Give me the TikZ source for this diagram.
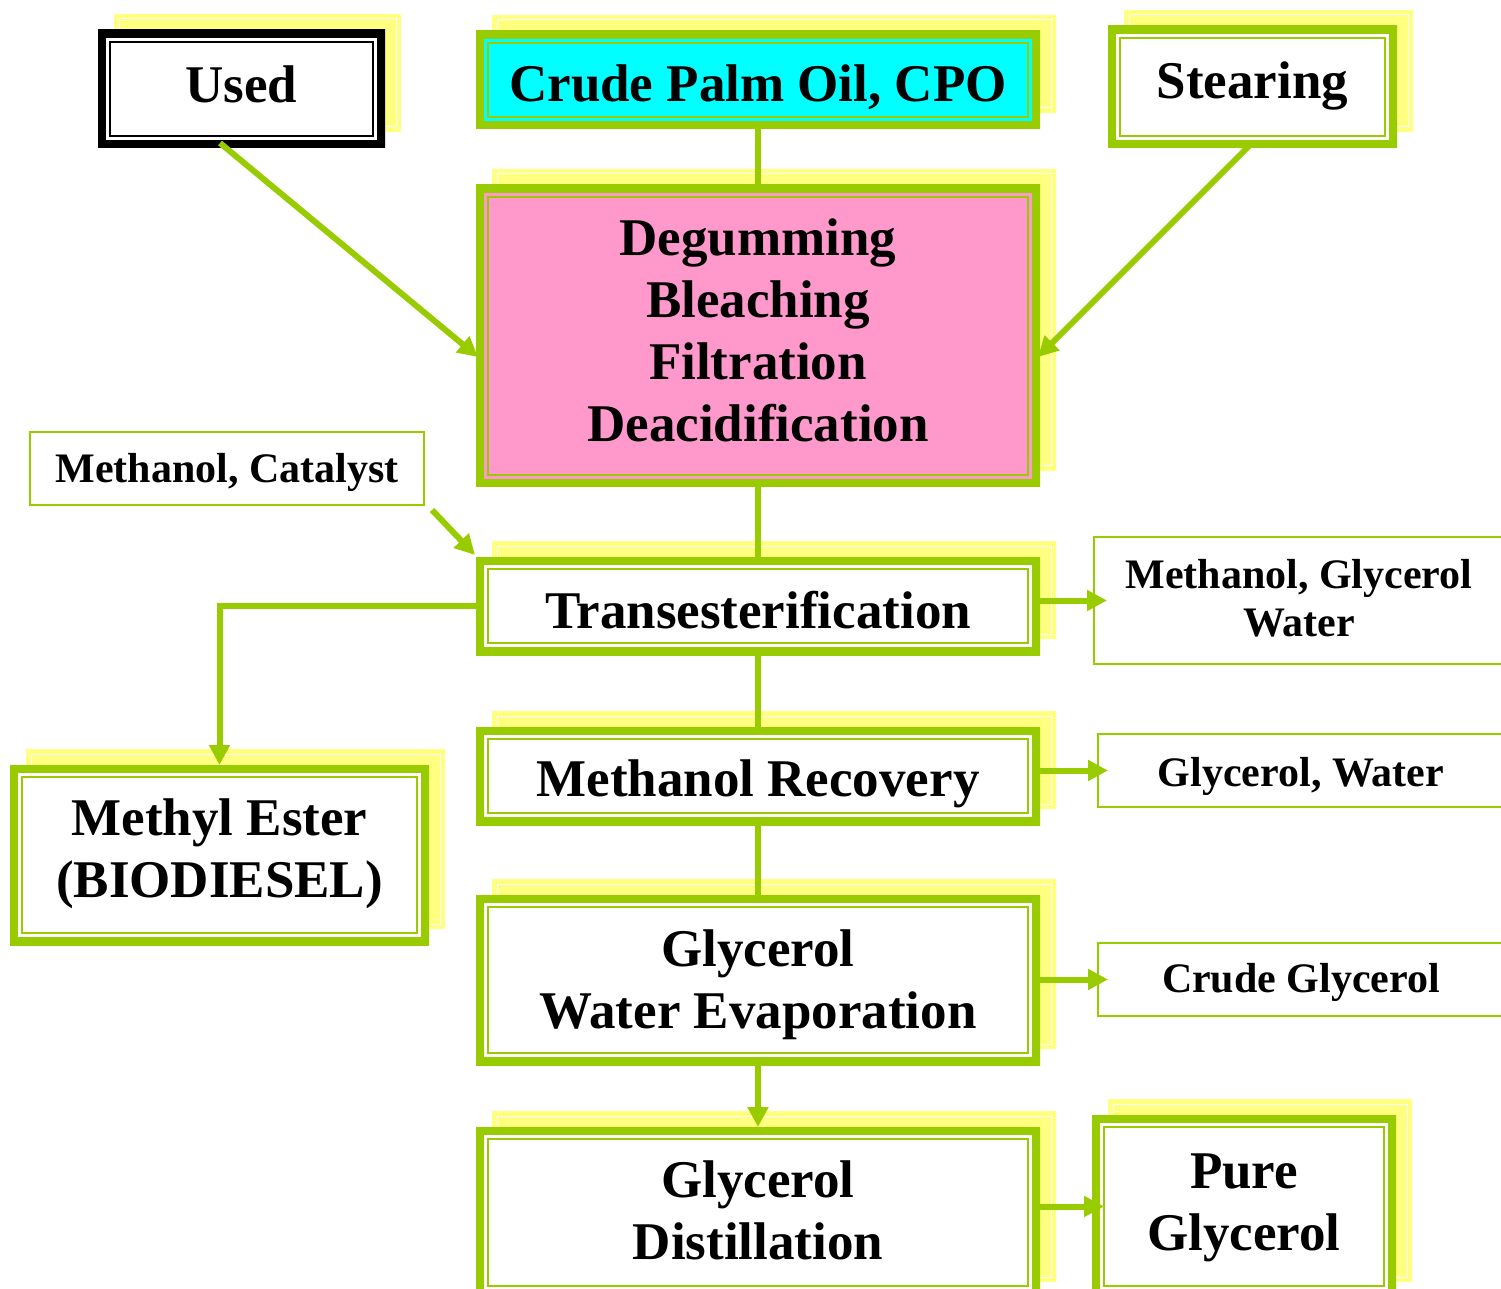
\documentclass[tikz,border=0pt]{standalone}
\usepackage{fontspec}
\setmainfont{Liberation Serif}
\usetikzlibrary{arrows.meta,calc}
\pgfdeclarelayer{background}
\pgfsetlayers{background,main}
\definecolor{grn}{HTML}{99CC00}
\definecolor{yel}{HTML}{FFFF80}
\definecolor{cya}{HTML}{00FFFF}
\definecolor{pnk}{HTML}{FF99CC}
\newcommand\bigf{\fontsize{26.5}{31}\selectfont\bfseries}
\newcommand\smf{\fontsize{21}{24}\selectfont\bfseries}
\newcommand\mv[2]{\raisebox{#1}[\height][\depth]{\begin{tabular}{@{}c@{}}#2\end{tabular}}}
\tikzset{
  x=0.5pt, y=-0.5pt,
  dbl/.style={fill=white, inner sep=0pt, outer sep=0pt, font=\bigf,
    path picture={
      \draw[#1, line width=8pt] (path picture bounding box.south west) rectangle (path picture bounding box.north east);
      \draw[#1, line width=1.25pt] ([shift={(5.9pt,5.9pt)}]path picture bounding box.south west) rectangle ([shift={(-5.9pt,-5.9pt)}]path picture bounding box.north east);
    }},
  dbl/.default=grn,
  thinbox/.style={draw=grn, line width=0.75pt, fill=white, inner sep=0pt, outer sep=0pt, font=\smf},
  conn/.style={draw=grn, line width=3pt},
  arr/.style={conn, -{Triangle[length=10pt,width=10pt]}},
}
\begin{document}
\begin{tikzpicture}
\useasboundingbox (0,0) rectangle (1501,1289);
\node[dbl=black, minimum width=143.5pt, minimum height=59pt] (used) at (241.5,89) {\mv{-0.5pt}{Used}};
\node[dbl, fill=cya, minimum width=282pt, minimum height=49pt] (cpo) at (758,80) {\mv{-4.5pt}{Crude Palm Oil, CPO}};
\node[dbl, minimum width=144.5pt, minimum height=61pt] (stear) at (1252.5,87) {\mv{0.5pt}{Stearing}};
\node[dbl, fill=pnk, minimum width=282pt, minimum height=151pt] (degum) at (758,336) {\mv{0pt}{Degumming\\Bleaching\\Filtration\\Deacidification}};
\node[thinbox, minimum width=197pt, minimum height=36.5pt] (mc) at (227,468.5) {\mv{-2pt}{Methanol, Catalyst}};
\node[dbl, minimum width=282pt, minimum height=49pt] (trans) at (758,606) {\mv{-5pt}{Transesterification}};
\node[thinbox, minimum width=205pt, minimum height=63.5pt] (mgw) at (1299,600.5) {\mv{-1pt}{Methanol, Glycerol\\Water}};
\node[dbl, minimum width=209.5pt, minimum height=90pt] (me) at (219.5,855) {\mv{0.5pt}{Methyl Ester\\(BIODIESEL)}};
\node[dbl, minimum width=282pt, minimum height=49pt] (mr) at (758,776) {\mv{-4pt}{Methanol Recovery}};
\node[thinbox, minimum width=203pt, minimum height=36.5pt] (gw) at (1301,770.5) {\mv{-3pt}{Glycerol, Water}};
\node[dbl, minimum width=282pt, minimum height=85pt] (gwe) at (758,980) {\mv{-2.5pt}{Glycerol\\Water Evaporation}};
\node[thinbox, minimum width=203pt, minimum height=36.5pt] (cg) at (1301,979.5) {\mv{-1.5pt}{Crude Glycerol}};
\node[dbl, minimum width=282pt, minimum height=85.5pt] (gd) at (758,1212.5) {\mv{-1.75pt}{Glycerol\\Distillation}};
\node[dbl, minimum width=152pt, minimum height=91.5pt] (pg) at (1244,1206.5) {\mv{-0.5pt}{Pure\\Glycerol}};

\begin{pgfonlayer}{background}
\fill[white] (0,0) rectangle (1501,1289);
\foreach \n in {used,cpo,stear,degum,trans,me,mr,gwe,gd,pg}{
  \fill[yel] ([shift={(8pt,8pt)}]\n.south west) rectangle ([shift={(8pt,8pt)}]\n.north east);
  \draw[white, line width=0.5pt] ([shift={(10.5pt,10.5pt)}]\n.south west) rectangle ([shift={(5.5pt,5.5pt)}]\n.north east);
}
\end{pgfonlayer}

% connectors
\draw[arr] ([shift={(-10.75pt,2.5pt)}]used.south) -- ([shift={(1pt,-10.5pt)}]degum.west);
\draw[arr] ([shift={(-1.25pt,1.5pt)}]stear.south) -- ([shift={(-1pt,-10.5pt)}]degum.east);
\draw[conn] (cpo.south) -- (degum.north);
\draw[conn] (degum.south) -- (trans.north);
\draw[arr] ([shift={(4pt,-2.5pt)}]mc.south east) -- ([shift={(-0.5pt,1pt)}]trans.north west);
\draw[arr] (trans.west) -- (me.north |- trans.west) -- (me.north);
\draw[arr] (trans.east |- mgw.west) -- ([xshift=6.5pt]mgw.west);
\draw[conn] (trans.south) -- (mr.north);
\draw[arr] (mr.east |- gw.west) -- ([xshift=5pt]gw.west);
\draw[conn] (mr.south) -- (gwe.north);
\draw[arr] (gwe.east |- cg.west) -- ([xshift=5pt]cg.west);
\draw[arr] (gwe.south) -- (gd.north);
\draw[arr] (gd.east |- pg.west) -- ([xshift=6pt]pg.west);
\end{tikzpicture}
\end{document}
